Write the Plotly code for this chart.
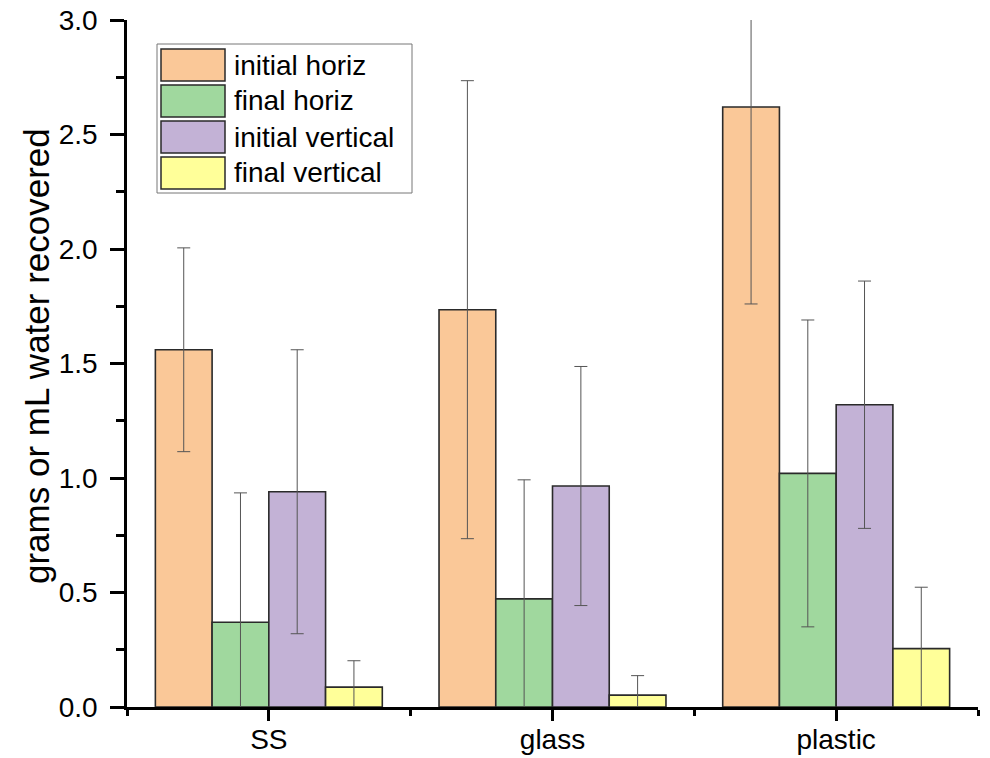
import plotly.graph_objects as go

categories = ["SS", "glass", "plastic"]
series_names = ["initial horiz", "final horiz", "initial vertical", "final vertical"]
initial_horiz = [1.56, 1.735, 2.62]
initial_horiz_err = [0.445, 1.0, 0.86]
final_horiz = [0.37, 0.472, 1.02]
final_horiz_err = [0.565, 0.52, 0.67]
initial_vertical = [0.94, 0.965, 1.32]
initial_vertical_err = [0.62, 0.522, 0.54]
final_vertical = [0.087, 0.052, 0.255]
final_vertical_err = [0.115, 0.085, 0.268]
y_tick_values = [0.0, 0.5, 1.0, 1.5, 2.0, 2.5, 3.0]

colors = ["#FAC898", "#A0D89E", "#C3B2D6", "#FFFF99"]
values = [initial_horiz, final_horiz, initial_vertical, final_vertical]
errors = [initial_horiz_err, final_horiz_err, initial_vertical_err, final_vertical_err]

W, H = 990, 758
L, R, T, B = 127, 12, 20, 51
FONT = "Liberation Sans, Arial, sans-serif"

xpos = list(range(len(categories)))

fig = go.Figure()
for name, vals, errs, col in zip(series_names, values, errors, colors):
    fig.add_trace(go.Bar(
        x=xpos, y=vals, name=name,
        marker=dict(color=col, line=dict(color="#2a2a2a", width=1.6)),
        error_y=dict(type="data", array=errs, visible=True,
                     color="#555555", thickness=1, width=6.5),
        showlegend=False,
    ))

pw = W - L - R
ph = H - T - B


def px_x(p):
    return (p - L) / pw


def px_y(p):
    return 1 - (p - T) / ph


shapes = []
annotations = []
# legend box (pixel coordinates of the picture)
shapes.append(dict(type="rect", xref="paper", yref="paper",
                   x0=px_x(157), x1=px_x(412), y0=px_y(193), y1=px_y(44),
                   line=dict(color="#777777", width=1), fillcolor="white", layer="above"))
row_tops = [49, 85, 121, 157]
for name, col, top in zip(series_names, colors, row_tops):
    shapes.append(dict(type="rect", xref="paper", yref="paper",
                       x0=px_x(161), x1=px_x(225), y0=px_y(top + 32), y1=px_y(top),
                       line=dict(color="#2a2a2a", width=1.5), fillcolor=col, layer="above"))
    annotations.append(dict(xref="paper", yref="paper", x=px_x(232), y=px_y(top + 16),
                            text=name, showarrow=False, xanchor="left", yanchor="middle",
                            font=dict(family=FONT, size=28, color="black")))

# y-axis title placed as a rotated annotation
annotations.append(dict(xref="paper", yref="paper", x=px_x(36), y=px_y(356),
                        text="grams or mL water recovered", showarrow=False,
                        textangle=-90, xanchor="center", yanchor="middle",
                        font=dict(family=FONT, size=35, color="black")))

fig.update_layout(
    width=W, height=H,
    margin=dict(l=L, r=R, t=T, b=B, pad=0, autoexpand=False),
    paper_bgcolor="white", plot_bgcolor="white",
    barmode="group", bargap=0.2, bargroupgap=0,
    font=dict(family=FONT, color="black"),
    shapes=shapes, annotations=annotations,
    showlegend=False,
)
fig.update_xaxes(
    range=[-0.5, len(categories) - 0.5],
    tickmode="array", tickvals=xpos, ticktext=categories,
    ticks="outside", ticklen=11, tickwidth=2.5, tickcolor="black",
    showline=True, linewidth=2.5, linecolor="black",
    showgrid=False, zeroline=False,
    tickfont=dict(family=FONT, size=28, color="black"),
    ticklabelstandoff=-5, ticklabeloverflow="allow",
    minor=dict(tickmode="array", tickvals=[i - 0.5 for i in range(len(categories) + 1)],
               ticks="outside", ticklen=6, tickwidth=2.5, tickcolor="black", showgrid=False),
)
fig.update_yaxes(
    range=[0, 3.0],
    tickmode="array", tickvals=y_tick_values, tickformat=".1f",
    ticks="outside", ticklen=14, tickwidth=2.5, tickcolor="black",
    showline=True, linewidth=2.5, linecolor="black",
    showgrid=False, zeroline=False,
    tickfont=dict(family=FONT, size=28, color="black"),
    ticklabelstandoff=7, ticklabeloverflow="allow",
    minor=dict(dtick=0.25, ticks="outside", ticklen=8, tickwidth=2.5, tickcolor="black", showgrid=False),
)

fig.write_html("out.html", config={"displayModeBar": False},
               post_script="document.body.style.margin='0px';")
